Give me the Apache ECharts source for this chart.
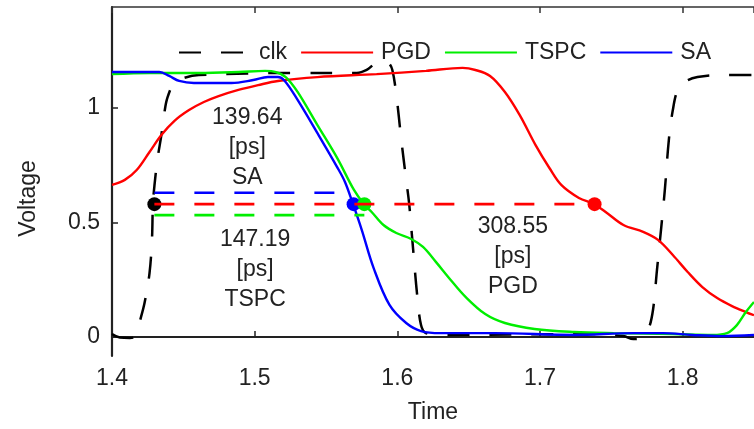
<!DOCTYPE html>
<html>
<head>
<meta charset="utf-8">
<title>Clock-to-output delay</title>
<script src="https://cdn.jsdelivr.net/npm/echarts@6/dist/echarts.min.js"></script>
<style>
  html, body { margin: 0; padding: 0; background: #ffffff; }
  #chart { width: 754px; height: 429px; }
</style>
</head>
<body>
<div id="chart"></div>
<script>
// Simulated waveforms (time in ns, voltage in V)
const clkTime = [1.4, 1.4055, 1.4125, 1.4166, 1.4194, 1.4228, 1.4263, 1.428, 1.4287, 1.4298, 1.4318, 1.4346, 1.4367, 1.4388, 1.4436, 1.4505, 1.4609, 1.53, 1.5716, 1.5785, 1.584, 1.5896, 1.5938, 1.5965, 1.5993, 1.6028, 1.6062, 1.6083, 1.6111, 1.6139, 1.6166, 1.62, 1.6304, 1.7377, 1.7585, 1.7654, 1.771, 1.7758, 1.7792, 1.782, 1.7848, 1.7875, 1.7903, 1.7931, 1.7965, 1.8014, 1.8104, 1.8277, 1.85];
const clkVolt = [0.013, -0.002, -0.004, 0.004, 0.066, 0.148, 0.279, 0.424, 0.581, 0.664, 0.773, 0.882, 0.978, 1.044, 1.109, 1.131, 1.144, 1.153, 1.153, 1.166, 1.192, 1.205, 1.197, 1.166, 1.057, 0.86, 0.686, 0.581, 0.38, 0.183, 0.052, 0.017, 0.009, 0.013, 0.004, -0.009, -0.004, 0.031, 0.118, 0.293, 0.467, 0.642, 0.86, 0.991, 1.079, 1.114, 1.135, 1.144, 1.144];

const pgdTime = [1.4, 1.409, 1.4173, 1.4263, 1.4346, 1.4436, 1.454, 1.4644, 1.4747, 1.4886, 1.5024, 1.5163, 1.5439, 1.5855, 1.6201, 1.6457, 1.6547, 1.665, 1.6754, 1.6858, 1.6969, 1.7066, 1.7149, 1.7273, 1.7377, 1.746, 1.7585, 1.7723, 1.7827, 1.7931, 1.8035, 1.8138, 1.8242, 1.8346, 1.8443, 1.85];
const pgdVolt = [0.664, 0.686, 0.729, 0.808, 0.882, 0.943, 0.991, 1.026, 1.052, 1.079, 1.1, 1.118, 1.135, 1.148, 1.162, 1.175, 1.166, 1.14, 1.07, 0.969, 0.838, 0.738, 0.664, 0.607, 0.581, 0.546, 0.489, 0.459, 0.424, 0.358, 0.284, 0.218, 0.17, 0.135, 0.109, 0.095];

const tspcTime = [1.4, 1.4263, 1.4609, 1.4886, 1.5073, 1.5149, 1.5218, 1.5301, 1.5439, 1.5578, 1.5696, 1.5765, 1.582, 1.5903, 1.5993, 1.6097, 1.618, 1.627, 1.6374, 1.6478, 1.6616, 1.6754, 1.6962, 1.7239, 1.7516, 1.7931, 1.8208, 1.8311, 1.838, 1.8443, 1.85];
const tspcVolt = [1.148, 1.153, 1.153, 1.157, 1.162, 1.157, 1.135, 1.07, 0.926, 0.782, 0.642, 0.581, 0.546, 0.489, 0.454, 0.428, 0.393, 0.328, 0.249, 0.175, 0.1, 0.061, 0.035, 0.022, 0.017, 0.013, 0.009, 0.017, 0.052, 0.109, 0.153];

const saTime = [1.4, 1.4332, 1.4401, 1.4471, 1.4574, 1.4837, 1.499, 1.5093, 1.5163, 1.5211, 1.5301, 1.5439, 1.5578, 1.5633, 1.5689, 1.5751, 1.5834, 1.5945, 1.6062, 1.6166, 1.6304, 1.6685, 1.7239, 1.7654, 1.7862, 1.8069, 1.8277, 1.85];
const saVolt = [1.157, 1.157, 1.14, 1.118, 1.109, 1.109, 1.122, 1.135, 1.135, 1.118, 1.035, 0.891, 0.742, 0.677, 0.581, 0.467, 0.301, 0.14, 0.061, 0.026, 0.017, 0.017, 0.009, 0.017, 0.017, 0.009, 0.004, 0.009];

// Measured clock-to-output delays
const delayNames = ['SA', 'TSPC', 'PGD'];
const delayPs = [139.64, 147.19, 308.55];
const clkEdgeTime = 1.4297;   // clock crossing that starts each measurement (ns)
const crossVolt = 0.58;       // threshold voltage of the crossings (V)

// Axis ticks
const xTickStep = 0.1;
const yTickValues = [0, 0.5, 1];

const FONT = '"Liberation Sans", Arial, Helvetica, sans-serif';
const INK = '#222222';
const colors = { clk: '#000000', PGD: '#ff0000', TSPC: '#00ee00', SA: '#0000ff' };

// Vertical offsets of the measurement bars so they do not overlap
const barOffset = { SA: 0.05, TSPC: -0.048, PGD: 0 };
// Where each delay annotation is anchored (data coordinates)
const noteAnchor = { SA: [1.4948, 0.825], TSPC: [1.5003, 0.293], PGD: [1.681, 0.349] };

const zip = (xs, ys) => xs.map((x, i) => [x, ys[i]]);

function wave(name, xs, ys, dashed) {
  return {
    name, type: 'line', data: zip(xs, ys),
    symbol: 'none', showSymbol: false, smooth: 0.35,
    z: dashed ? 2 : 3,
    lineStyle: { color: colors[name], width: dashed ? 2.5 : 2.4, type: dashed ? [22, 20] : 'solid' },
    itemStyle: { color: colors[name] },
    emphasis: { disabled: true }, silent: true
  };
}

const series = [
  wave('clk', clkTime, clkVolt, true),
  wave('PGD', pgdTime, pgdVolt, false),
  wave('TSPC', tspcTime, tspcVolt, false),
  wave('SA', saTime, saVolt, false)
];

// Crossing times derived from the delays
const crossTime = delayPs.map(d => clkEdgeTime + d / 1000);

// Dots at each crossing
const dotData = [{ value: [clkEdgeTime, crossVolt], itemStyle: { color: colors.clk } }];
delayNames.forEach((n, i) => dotData.push({ value: [crossTime[i], crossVolt], itemStyle: { color: colors[n] } }));
series.push({
  name: 'crossings', type: 'scatter', data: dotData, symbol: 'circle', symbolSize: 14,
  itemStyle: { opacity: 1 }, z: 4, silent: true
});

// Dashed measurement bars from the clock edge to each crossing
delayNames.forEach((n, i) => {
  const y = crossVolt + barOffset[n];
  series.push({
    name: 'bar-' + n, type: 'line', data: [[clkEdgeTime, y], [crossTime[i], y]],
    symbol: 'none', z: n === 'PGD' ? 6 : 5, silent: true,
    lineStyle: { color: colors[n], width: 2.6, type: [20, 20] }
  });
});

// Delay annotations
series.push({
  name: 'notes', type: 'scatter', symbolSize: 0, z: 7, silent: true,
  itemStyle: { opacity: 1 },
  data: delayNames.map((n, i) => ({
    value: noteAnchor[n],
    label: { formatter: delayPs[i].toFixed(2) + '\n[ps]\n' + n }
  })),
  label: {
    show: true, position: 'inside', align: 'center', verticalAlign: 'middle',
    fontFamily: FONT, fontSize: 23, lineHeight: 30, color: INK, opacity: 1
  }
});

const chart = echarts.init(document.getElementById('chart'), null, { renderer: 'canvas' });
chart.setOption({
  animation: false,
  backgroundColor: '#ffffff',
  textStyle: { fontFamily: FONT },
  grid: { left: 112, right: -8, top: 7, bottom: 73, containLabel: false },
  legend: {
    data: ['clk', 'PGD', 'TSPC', 'SA'],
    left: 173, top: 36, itemWidth: 72, itemHeight: 24, itemGap: 13,
    selectedMode: false,
    itemStyle: { opacity: 0 },
    textStyle: { fontFamily: FONT, fontSize: 23, color: INK, padding: [0, 0, 0, 3] }
  },
  xAxis: [{
    type: 'value', min: 1.4, max: 1.85, interval: xTickStep, position: 'bottom',
    name: 'Time', nameLocation: 'middle', nameGap: 45,
    nameTextStyle: { fontFamily: FONT, fontSize: 23, color: INK },
    axisLine: { show: true, lineStyle: { color: INK, width: 2.2 } },
    axisTick: { show: true, inside: true, length: 6, lineStyle: { color: INK, width: 1.5 } },
    axisLabel: { fontFamily: FONT, fontSize: 23, color: INK, margin: 11, showMaxLabel: false },
    splitLine: { show: false }
  }, {
    type: 'value', min: 1.4, max: 1.85, interval: xTickStep, position: 'top',
    axisLine: { show: true, lineStyle: { color: '#333333', width: 1.6 } },
    axisTick: { show: true, inside: true, length: 6, lineStyle: { color: '#333333', width: 1.5 } },
    axisLabel: { show: false }, splitLine: { show: false }
  }],
  yAxis: {
    type: 'value', min: -0.083, max: 1.441,
    name: 'Voltage', nameLocation: 'middle', nameGap: 72, nameRotate: 90,
    nameTextStyle: { fontFamily: FONT, fontSize: 23, color: INK, padding: [0, 34, 0, 0] },
    axisLine: { show: true, lineStyle: { color: INK, width: 2.2 } },
    axisTick: { show: true, inside: true, length: 6, customValues: yTickValues, lineStyle: { color: INK, width: 1.5 } },
    axisLabel: { fontFamily: FONT, fontSize: 23, color: INK, margin: 12, customValues: yTickValues },
    splitLine: { show: false }
  },
  series
});
</script>
</body>
</html>
